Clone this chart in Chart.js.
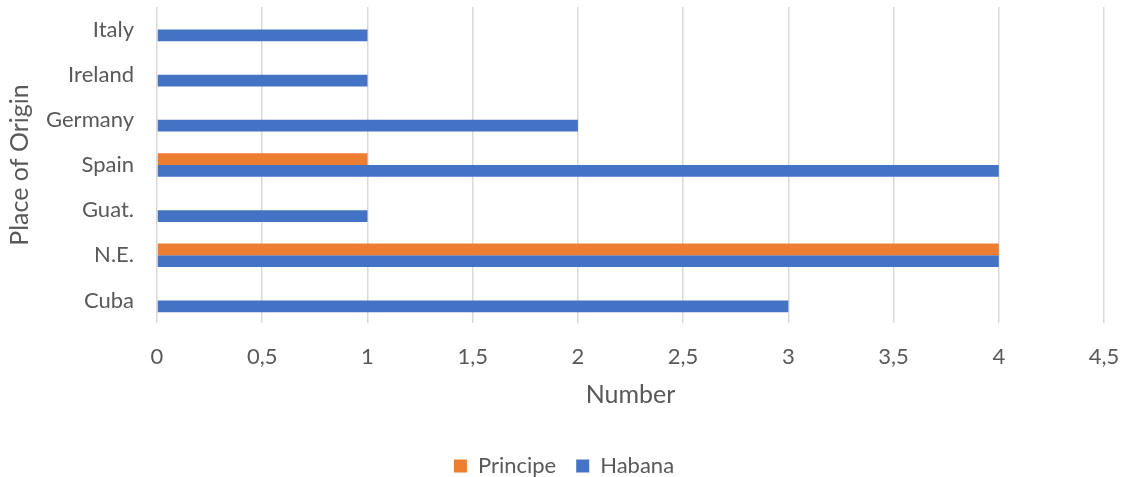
<!DOCTYPE html>
<html>
<head>
<meta charset="utf-8">
<script src="https://cdn.jsdelivr.net/npm/chart.js@4/dist/chart.umd.min.js"></script>
<style>
html,body{margin:0;padding:0;background:#fff;}
#wrap{width:1123px;height:477px;position:relative;}
</style>
</head>
<body>
<div id="wrap"><canvas id="c" width="1123" height="477"></canvas></div>
<script>
const categories = ["Italy", "Ireland", "Germany", "Spain", "Guat.", "N.E.", "Cuba"];
const principe = [0, 0, 0, 1, 0, 4, 0];
const habana = [1, 1, 2, 4, 1, 4, 3];
const seriesNames = ["Principe", "Habana"];
const xTitle = "Number";
const yTitle = "Place of Origin";

const FONT = "Lato, 'Open Sans', sans-serif";
const TXT = "#595959";

new Chart(document.getElementById('c'), {
  type: 'bar',
  data: {
    labels: categories,
    datasets: [
      {label: seriesNames[0], data: principe, backgroundColor: '#ED7D31', borderWidth: 0},
      {label: seriesNames[1], data: habana, backgroundColor: '#4472C4', borderWidth: 0}
    ]
  },
  options: {
    indexAxis: 'y',
    responsive: false,
    animation: false,
    maintainAspectRatio: false,
    categoryPercentage: 0.52,
    barPercentage: 1.0,
    layout: {padding: {top: 7, right: 19, left: 24, bottom: -10}},
    plugins: {
      legend: {
        position: 'bottom',
        labels: {
          font: {family: FONT, size: 22},
          color: TXT,
          boxWidth: 13,
          boxHeight: 13,
          padding: 20
        }
      },
      tooltip: {enabled: false}
    },
    scales: {
      x: {
        min: 0, max: 4.5,
        border: {display: false},
        grid: {color: '#d9d9d9', lineWidth: 1.5, drawTicks: false},
        ticks: {
          stepSize: 0.5,
          padding: 21,
          font: {family: FONT, size: 22},
          color: TXT,
          callback: v => String(v).replace('.', ',')
        },
        title: {display: true, text: xTitle, font: {family: FONT, size: 25}, color: TXT, padding: {top: 0, bottom: 25}},
        afterFit: s => { s.height = 112; s.paddingLeft = 0; s.paddingRight = 0; }
      },
      y: {
        border: {display: false},
        grid: {display: false, drawTicks: false},
        ticks: {padding: 23, font: {family: FONT, size: 22}, color: TXT},
        title: {display: true, text: yTitle, font: {family: FONT, size: 25}, color: TXT, padding: {top: -19, bottom: 0}},
        afterFit: s => { s.width = 133; s.paddingTop = 0; s.paddingBottom = 0; }
      }
    }
  }
});
</script>
</body>
</html>
